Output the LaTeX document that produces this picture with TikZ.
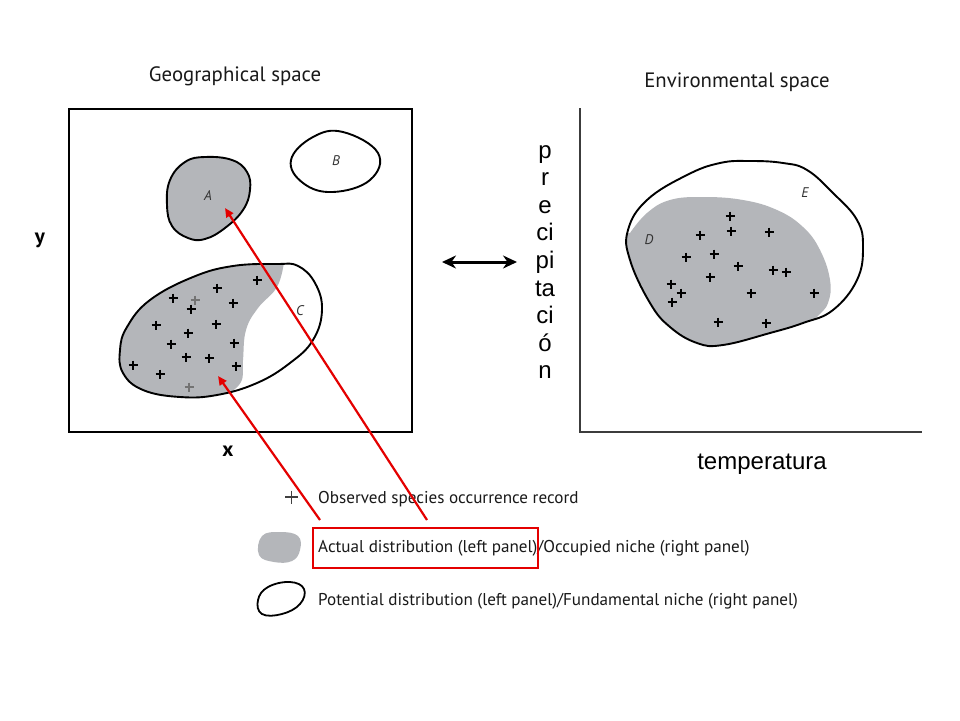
\documentclass[tikz,border=0pt]{standalone}
\usepackage{fontspec}
\usetikzlibrary{arrows.meta}
\newfontfamily\figfont{PT Sans}
\newfontfamily\arialfont{Liberation Sans}
\definecolor{blobgray}{RGB}{180,182,186}
\definecolor{redline}{RGB}{228,0,0}
\definecolor{axisgray}{RGB}{60,60,60}
\definecolor{txtgray}{RGB}{25,25,25}
\tikzset{
  x=1pt, y=-1pt,
  outline/.style={draw=black, line width=1.9pt},
  grayfill/.style={fill=blobgray},
  lbl/.style={font=\figfont\itshape\fontsize{14}{14}\selectfont, inner sep=0pt, text=black!80},
  title/.style={font=\figfont\fontsize{20.8}{20.8}\selectfont, inner sep=0pt, text=txtgray},
  legtxt/.style={font=\figfont\fontsize{17.1}{17.1}\selectfont, inner sep=0pt, anchor=base west, text=txtgray},
  arialtxt/.style={font=\arialfont\fontsize{24}{27.6}\selectfont, inner sep=0pt},
  redarrow/.style={draw=redline, line width=2.2pt, -{Triangle[length=9pt,width=8pt]}},
}
\newcommand{\plusat}[2]{\draw[line width=1.4pt] (#1-4.5,#2) -- (#1+4.5,#2) (#1,#2-4.5) -- (#1,#2+4.5);}
\newcommand{\plusgray}[2]{\draw[line width=1.4pt, draw=black!55] (#1-4.5,#2) -- (#1+4.5,#2) (#1,#2-4.5) -- (#1,#2+4.5);}
\begin{document}
\begin{tikzpicture}
\useasboundingbox (0,0) rectangle (960,720);
\fill[white] (0,0) rectangle (960,720);

% titles
\node[title] (tgeo) at (235,76) {Geographical space};
\node[title] (tenv) at (737,82) {Environmental space};

% left frame
\draw[line width=2pt] (69,109) rectangle (412,432);
\node[font=\figfont\bfseries\fontsize{21}{21}\selectfont, inner sep=0pt] (ylab) at (40,240) {y};
\node[font=\figfont\bfseries\fontsize{21}{21}\selectfont, inner sep=0pt] (xlab) at (228,451) {x};

% blob A
\draw[outline, grayfill] plot[smooth cycle, tension=0.7] coordinates {(205,157) (232,160) (247,172) (250,190) (243,210) (225,228) (205,239) (188,238) (172,226) (167,205) (170,180) (185,162)};
\node[lbl] (labA) at (208,196) {A};

% blob B
\draw[outline] plot[smooth cycle, tension=0.7] coordinates {(291,160) (313,137) (343,132) (378,153) (370,180) (333,192) (303,183)};
\node[lbl] (labB) at (336,161) {B};

% blob C with gray part
\begin{scope}
\clip plot[smooth cycle, tension=0.7] coordinates {(120,350) (127,327) (150,300) (193,277) (233,266) (277,264) (298,266) (315,283) (322,310) (313,340) (290,363) (257,383) (217,395) (180,397) (143,390) (123,373)};
\fill[blobgray] (100,250) -- (284,250) -- plot[smooth, tension=0.7] coordinates {(284,262) (277,287) (258,308) (246,330) (243,360) (241,382) (225,396)} -- (225,420) -- (100,420) -- cycle;
\end{scope}
\draw[outline] plot[smooth cycle, tension=0.7] coordinates {(120,350) (127,327) (150,300) (193,277) (233,266) (277,264) (298,266) (315,283) (322,310) (313,340) (290,363) (257,383) (217,395) (180,397) (143,390) (123,373)};
\node[lbl] (labC) at (300,311) {C};

% plus signs left
\plusat{173}{298} \plusgray{195}{300} \plusat{191}{309} \plusat{217}{288}
\plusat{233}{303} \plusat{257}{280} \plusat{156}{325} \plusat{188}{333}
\plusat{216}{324} \plusat{171}{344} \plusat{234}{343} \plusat{186}{357}
\plusat{209}{358} \plusat{236}{366} \plusat{133}{365} \plusat{160}{374}
\plusgray{189}{387}

% double arrow
\coordinate (dl) at (442,262);
\coordinate (dr) at (517,262);
\draw[line width=3pt, {Stealth[length=14pt,width=13pt]}-{Stealth[length=14pt,width=13pt]}] (dl) -- (dr);

% precipitacion
\node[arialtxt, align=center, anchor=north] (prec) at (545,145) {p\\r\\e\\ci\\pi\\ta\\ci\\ó\\n};

% right axes
\coordinate (ax0) at (580,432);
\coordinate (axy) at (580,108);
\coordinate (axx) at (922,432);
\draw[line width=2pt, axisgray] (axy) -- (ax0) -- (axx);
\node[arialtxt, anchor=base] (temp) at (762,469) {temperatura};

% blob E with D
\begin{scope}
\clip plot[smooth cycle, tension=0.7] coordinates {(628,230) (647,200) (687,175) (720,163) (750,161) (783,163) (807,170) (833,193) (857,220) (863,247) (857,280) (833,310) (803,323) (770,333) (723,345) (697,343) (670,327) (650,303) (630,260)};
\fill[blobgray] (600,233) -- (630,233) -- plot[smooth, tension=0.7] coordinates {(630,233) (647,213) (670,200) (703,197) (743,200) (777,210) (803,227) (820,250) (830,280) (828,303) (817,317) (805,330)} -- (830,360) -- (600,360) -- cycle;
\end{scope}
\draw[outline] plot[smooth cycle, tension=0.7] coordinates {(628,230) (647,200) (687,175) (720,163) (750,161) (783,163) (807,170) (833,193) (857,220) (863,247) (857,280) (833,310) (803,323) (770,333) (723,345) (697,343) (670,327) (650,303) (630,260)};
\node[lbl] (labD) at (649,240) {D};
\node[lbl] (labE) at (805,193) {E};

% plus signs right
\plusat{730}{216} \plusat{731}{231} \plusat{700}{235} \plusat{769}{232}
\plusat{686}{257} \plusat{714}{254} \plusat{738}{266} \plusat{773}{270}
\plusat{786}{272} \plusat{710}{277} \plusat{671}{284} \plusat{681}{293}
\plusat{672}{302} \plusat{751}{293} \plusat{814}{293} \plusat{718}{322}
\plusat{766}{323}

% legend
\draw[line width=1.3pt, black!75] (285,497) -- (298,497) (291.5,490.5) -- (291.5,503.5);
\node[legtxt] (leg1) at (318,503) {Observed species occurrence record};
\fill[blobgray] plot[smooth cycle, tension=0.7] coordinates {(262,536) (280,532) (298,536) (300,550) (292,561) (274,562) (259,555)};
\node[legtxt] (leg2) at (318,552) {Actual distribution (left panel)/Occupied niche (right panel)};
\draw[line width=1.8pt] plot[smooth cycle, tension=0.7] coordinates {(258,600) (268,587) (290,582) (304,589) (300,604) (282,614) (262,614)};
\node[legtxt] (leg3) at (318,605) {Potential distribution (left panel)/Fundamental niche (right panel)};

% red box and arrows
\node[draw=redline, line width=1.6pt, minimum width=225pt, minimum height=40pt, inner sep=0pt, anchor=north west] (redbox) at (312,527) {};
\coordinate (s1) at (427,520);
\coordinate (s2) at (320,520);
\coordinate (tipA) at (225,208);
\coordinate (tipC) at (218,376);
\draw[redarrow] (s1) -- (tipA);
\draw[redarrow] (s2) -- (tipC);
\end{tikzpicture}
\end{document}
